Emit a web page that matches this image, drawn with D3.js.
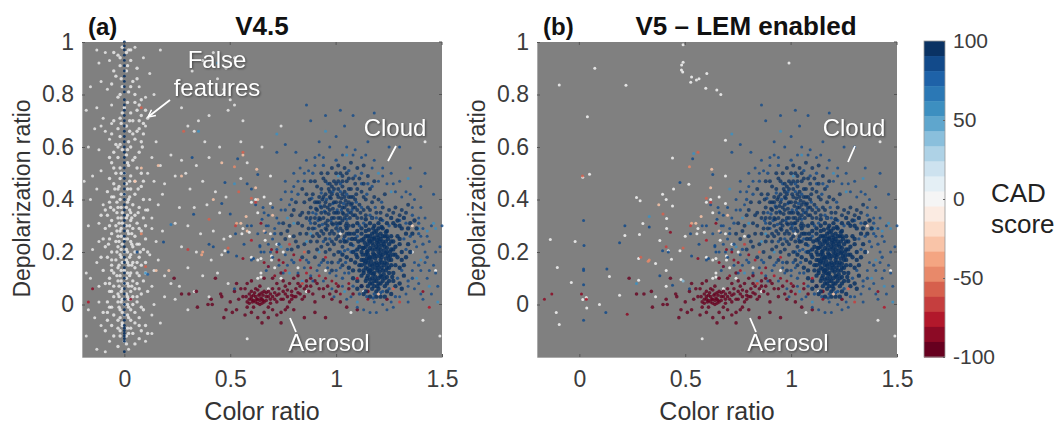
<!DOCTYPE html>
<html>
<head>
<meta charset="utf-8">
<script src="https://cdn.jsdelivr.net/npm/d3@7"></script>
<style>
    html, body { margin: 0; padding: 0; background: #fff; }
    text { font-family: "Liberation Sans", Arial, sans-serif; }
</style>
</head>
<body>
<svg id="chart" width="1057" height="425"></svg>
<script>
// colorbar levels, top (100) to bottom (-100)
const cadColors = ["#0a3263","#124a8a","#1e62a8","#2b78b5","#3d8fc0","#5fa6cd","#8abfdc","#aed2e6","#cde2ef","#e4eff5","#f5f5f5","#fbebe2","#fcdcc9","#f9c4a8","#f4a582","#e8896a","#d6604d","#c53e3e","#b2182b","#8c0a25","#67001f"];
const xTicks = [0, 0.5, 1, 1.5];
const yTicks = [0, 0.2, 0.4, 0.6, 0.8, 1];
const cadTicks = [100, 50, 0, -50, -100];

// points as [color ratio, depol ratio]; the dense cores are estimates
const lowerLobe = [[1.16,.24],[1.18,.25],[1.2,.23],[1.22,.24],[1.14,.22],[1.17,.21],[1.19,.22],[1.21,.21],[1.23,.22],[1.25,.23],[1.13,.25],[1.15,.26],[1.17,.27],[1.19,.28],[1.21,.27],[1.23,.26],[1.12,.2],[1.14,.19],[1.16,.18],[1.18,.19],[1.2,.2],[1.22,.19],[1.24,.2],[1.26,.21],[1.13,.17],[1.15,.16],[1.17,.15],[1.19,.16],[1.21,.17],[1.23,.16],[1.25,.17],[1.14,.14],[1.16,.13],[1.18,.12],[1.2,.14],[1.22,.13],[1.24,.14],[1.26,.15],[1.15,.11],[1.17,.1],[1.19,.09],[1.21,.11],[1.23,.1],[1.25,.12],[1.12,.15],[1.1,.18],[1.11,.22],[1.09,.25],[1.1,.28],[1.12,.29],[1.14,.3],[1.16,.31],[1.18,.3],[1.2,.31],[1.22,.29],[1.24,.28],[1.26,.26],[1.27,.24],[1.28,.22],[1.27,.19],[1.29,.18],[1.28,.15],[1.27,.12],[1.25,.09],[1.23,.07],[1.2,.06],[1.18,.07],[1.16,.08],[1.14,.09],[1.12,.11],[1.11,.13],[1.09,.16],[1.08,.2],[1.07,.23],[1.06,.27],[1.08,.3],[1.15,.205],[1.17,.235],[1.195,.245],[1.215,.225],[1.235,.24],[1.155,.245],[1.175,.195],[1.205,.185],[1.225,.205],[1.185,.175],[1.165,.165],[1.145,.175],[1.205,.155],[1.225,.15],[1.185,.14],[1.165,.12],[1.205,.125],[1.185,.105],[1.225,.115],[1.245,.185],[1.135,.235],[1.125,.215],[1.155,.285],[1.195,.265],[1.215,.295],[1.175,.29],[1.245,.25],[1.135,.155],[1.15,.135],[1.17,.08],[1.2,.08],[1.22,.09],[1.13,.13],[1.19,.05],[1.17,.06],[1.15,.07],[1.24,.05],[1.27,.09],[1.3,.14],[1.31,.2],[1.3,.23],[1.29,.26],[1.31,.29],[1.28,.3],[1.33,.27],[1.34,.23],[1.33,.18],[1.35,.31],[1.37,.32],[1.32,.33],[1.29,.32],[1.26,.33],[1.36,.27],[1.1,.06],[1.13,.04],[1.08,.1],[1.06,.14],[1.05,.18],[1.16,.03],[1.21,.03],[1.26,.04],[1.3,.08],[1.32,.11]];

const lowerLobeFill = [[1.15,.23],[1.175,.225],[1.19,.235],[1.205,.24],[1.225,.23],[1.24,.215],[1.13,.215],[1.145,.2],[1.16,.215],[1.185,.21],[1.2,.215],[1.21,.195],[1.235,.195],[1.255,.2],[1.125,.19],[1.14,.165],[1.155,.175],[1.17,.18],[1.19,.185],[1.215,.18],[1.235,.175],[1.255,.185],[1.16,.15],[1.18,.155],[1.195,.15],[1.215,.16],[1.24,.155],[1.155,.125],[1.17,.135],[1.195,.13],[1.215,.14],[1.235,.13],[1.16,.095],[1.18,.09],[1.2,.1],[1.215,.105],[1.24,.105],[1.145,.1],[1.175,.115],[1.195,.07],[1.21,.08],[1.18,.255],[1.2,.255],[1.22,.26],[1.24,.26],[1.16,.26],[1.14,.26],[1.12,.245],[1.17,.25],[1.21,.25],[1.15,.19],[1.12,.17],[1.1,.21],[1.105,.24],[1.085,.27],[1.12,.27],[1.14,.28],[1.18,.275],[1.2,.29],[1.235,.275],[1.26,.24],[1.27,.21],[1.26,.17],[1.28,.19],[1.25,.14],[1.265,.105],[1.24,.08],[1.13,.12],[1.11,.15],[1.095,.19],[1.075,.25],[1.05,.29],[1.04,.24],[1.03,.19],[1.07,.17],[1.08,.13],[1.1,.09],[1.12,.07],[1.14,.05],[1.19,.03],[1.23,.03],[1.28,.07],[1.31,.17],[1.3,.25],[1.34,.29],[1.3,.3],[1.27,.31],[1.24,.31],[1.21,.325],[1.17,.33],[1.14,.325],[1.1,.31],[1.38,.29],[1.35,.2],[1.32,.15],[1.31,.06]];

const upperLobe = [[.88,.37],[.9,.33],[.91,.39],[.93,.35],[.94,.41],[.95,.31],[.96,.37],[.97,.43],[.98,.33],[.99,.39],[1,.35],[1,.29],[1.01,.41],[1.02,.33],[1.03,.37],[1.04,.43],[1.05,.31],[1.06,.39],[1.07,.35],[1.08,.41],[1.09,.37],[1.1,.33],[.92,.3],[.94,.27],[.96,.32],[.98,.28],[1,.25],[1.02,.29],[1.04,.26],[1.06,.3],[1.08,.34],[1.11,.38],[1.12,.43],[1.13,.36],[1.14,.4],[.89,.42],[.91,.45],[.93,.44],[.95,.47],[.97,.46],[.99,.44],[1.01,.47],[1.03,.45],[1.05,.47],[1.07,.44],[1.09,.46],[1.11,.48],[1.05,.5],[1.03,.49],[1,.5],[.96,.5],[.86,.33],[.85,.39],[.87,.29],[.89,.26],[.91,.24],[.93,.22],[.95,.25],[.97,.21],[.99,.23],[1.01,.2],[1.03,.22],[1.05,.24],[1.07,.27],[.84,.35],[.82,.31],[.83,.27],[.85,.23],[.87,.2],[.9,.18],[.94,.17],[.98,.16],[1.02,.17],[.965,.345],[.985,.365],[1.015,.375],[1.035,.345],[1.055,.36],[.945,.375],[.925,.325],[.975,.405],[1.005,.42],[1.025,.405],[1.045,.395],[1.075,.385],[.955,.285],[.985,.305],[1.015,.31],[1.045,.3],[1.065,.33],[.905,.365],[.935,.4],[.965,.44],[1.095,.42],[1.115,.35],[1.08,.48],[.8,.26],[.78,.3],[.8,.36],[.76,.25],[.82,.22],[.84,.18],[1.12,.33],[1.13,.46],[1.16,.44],[1.18,.41],[1.16,.36],[1.19,.35],[1.22,.37],[1.25,.36],[1.28,.37],[1.31,.36],[1.34,.38],[1.2,.4],[1.23,.42],[1.15,.49],[1.18,.47],[1.1,.52],[1.13,.53],[1.07,.54],[.98,.52],[.93,.5],[.88,.47],[.84,.44]];

const upperLobeFill = [[.95,.35],[.97,.38],[.99,.35],[1.01,.33],[1.03,.32],[1.05,.34],[1.07,.38],[.93,.37],[.91,.36],[.9,.39],[.92,.41],[.95,.42],[.98,.42],[1,.39],[1.02,.39],[1.04,.37],[1.06,.41],[1.03,.42],[1.01,.44],[.99,.47],[.97,.41],[.94,.33],[.96,.3],[.98,.31],[1,.31],[1.02,.31],[1.04,.33],[.92,.33],[.9,.31],[.88,.33],[.87,.35],[.875,.4],[.92,.39],[.95,.39],[.97,.36],[.99,.33],[1.01,.35],[1.03,.35],[1.05,.38],[1.07,.41],[1.09,.4],[1.06,.44],[1.03,.47],[1,.46],[.98,.45],[1.08,.37],[1.1,.36],[1.09,.34],[1.04,.41],[.89,.29],[.91,.27],[.93,.28],[.95,.29],[.97,.27],[.99,.27],[1.01,.26],[1.03,.28],[1.05,.27],[.96,.23],[.98,.24],[1.02,.24],[.92,.26],[.88,.24],[.86,.27],[.84,.3],[.83,.34],[.86,.42],[.9,.47],[.94,.48],[1.02,.5],[1.06,.48],[1.1,.44],[1.13,.41],[1.15,.37],[1.17,.39],[1.14,.34],[1.21,.35],[1.24,.34],[1.27,.35],[1.3,.34],[1.33,.35],[1.01,.53],[1.04,.52],[.81,.39],[.79,.34],[.77,.28],[.75,.31],[.74,.27],[.81,.24],[.79,.21],[.91,.21],[.95,.2],[.99,.19],[1.03,.15],[.98,.13]];

const lobeExtras = [[.905,.345],[.925,.375],[.945,.355],[.955,.4],[.985,.385],[1.005,.36],[1.025,.36],[1.05,.325],[1.035,.385],[.975,.32],[1.005,.3],[.935,.305],[.915,.32],[.89,.35],[.875,.32],[.885,.405],[.93,.425],[.985,.43],[1.02,.43],[1.05,.42],[.96,.46],[1.02,.46],[1.075,.36],[1.095,.39],[1.06,.35],[1.12,.37],[.97,.25],[1.01,.28],[1.035,.25],[1.06,.25],[.94,.24],[.9,.29],[.88,.31],[1.1,.26],[1.08,.225],[1.09,.205],[1.07,.2],[1.055,.21],[1.04,.205],[1.02,.2],[1.01,.16],[1.045,.16],[1.06,.12],[1.03,.1],[1.08,.07],[1.11,.04],[1.145,.03],[1.175,.025],[1.21,.045],[1.25,.06],[1.29,.1],[1.31,.13],[1.33,.21],[1.32,.25],[1.35,.26],[1.37,.24],[1.39,.31],[1.36,.34],[1.33,.31],[1.3,.32],[1.25,.3],[1.22,.32],[1.19,.33],[1.16,.34],[1.13,.31],[1.11,.3],[1.185,.37],[1.215,.39],[1.145,.42],[1.17,.45],[1.12,.46],[1.15,.46],[1.09,.49],[1.06,.51],[1.12,.5],[1,.55],[.94,.53],[.89,.5],[.85,.47],[.82,.42],[.79,.4],[.76,.36],[.73,.31],[.71,.27],[.73,.23],[.77,.21],[.8,.16],[.87,.16],[.92,.15],[.96,.16],[1,.13],[1.18,.04],[1.22,.05],[1.28,.03],[1.34,.09],[1.36,.1],[1.39,.15],[1.41,.23],[1.43,.18],[1.39,.27]];

const cloudHalo = [[.62,.38],[.66,.35],[.68,.3],[.7,.25],[.72,.33],[.74,.4],[.76,.47],[.79,.43],[.8,.5],[.83,.52],[.86,.55],[.9,.53],[.94,.56],[.97,.6],[.92,.62],[1,.64],[1.05,.6],[1.09,.59],[1.14,.57],[1.18,.55],[1.22,.52],[1.26,.5],[1.3,.47],[1.33,.43],[1.37,.4],[1.4,.37],[1.42,.33],[1.45,.3],[1.44,.24],[1.42,.2],[1.4,.26],[1.38,.22],[1.37,.16],[1.4,.13],[1.43,.1],[1.46,.15],[1.48,.07],[1.45,.04],[1.41,.02],[1.37,.06],[1.34,.01],[1.3,.03],[1.27,-.01],[1.22,0],[1.18,.01],[1.13,-.02],[1.07,.03],[1.03,.07],[1,.11],[.97,.12],[.94,.09],[.91,.13],[.88,.11],[.85,.14],[.82,.12],[.79,.17],[.76,.19],[.73,.15],[.7,.18],[.67,.13],[1.04,.12],[1.02,.14],[.96,.14],[1.25,.6],[1.15,.62],[1.04,.68],[1.08,.72],[1.02,.74],[.95,.72],[.86,.76],[.88,.7],[.72,.58],[.76,.61],[.81,.58],[1.18,.73],[1.3,.6],[1.42,.5],[1.46,.42],[1.49,.22],[1.35,.52],[1.4,.45],[1.47,.12],[1.5,.3],[.58,.3],[.64,.22],[.6,.17],[.74,.36],[.71,.29],[.78,.38],[.82,.47],[.87,.51],[.92,.57],[1.12,.56],[1.2,.47],[1.24,.46],[1.28,.43],[1.35,.42],[1.39,.33],[1.41,.29],[1.36,.13],[1.39,.08],[1.34,.07],[1.42,.16],[1.1,-.01],[1.16,-.03],[1.26,.01],[.98,.06],[.93,.16],[.89,.09],[.86,.17],[.77,.15],[.72,.21],[.68,.23],[.66,.2],[.7,.37],[.76,.43],[.8,.45],[.85,.5],[.9,.56],[1.03,.57],[1.08,.57],[1.17,.52],[1.22,.49],[1.27,.46],[1.31,.41],[1.36,.37],[1.43,.26],[1.47,.2],[1.44,.13],[1.4,.04],[1.33,.04],[1.24,-.02],[1.19,-.03],[1.05,.02],[.99,.03],[.75,.12],[.69,.2],[.63,.27]];

const lightBlue = [[.77,.33],[.8,.31],[.74,.22],[.86,.24],[.92,.2],[.78,.12],[.84,.09],[1.04,.05],[1.1,.01],[1.39,.29],[1.43,.28],[1.46,.31],[1.4,.17],[1.44,.07],[1.48,.01],[1.05,.57],[.95,.66],[.72,.65],[1.26,.43],[1.34,.48],[1.2,.5],[.88,.27],[1.38,.1],[1.01,.49],[1.47,.29]];

const aerosolCore = [[.56,.03],[.58,.01],[.59,.04],[.6,.02],[.61,-.01],[.62,.03],[.62,.01],[.63,.02],[.64,.04],[.64,0],[.65,.02],[.66,.05],[.66,.01],[.67,.03],[.68,-.01],[.69,.02],[.6,.05],[.58,-.01],[.62,.06],[.64,.07],[.68,.05],[.7,.03],[.7,.06],[.72,.01],[.73,.04],[.74,.02],[.75,.05],[.76,.07],[.77,.03],[.78,.01],[.79,.05],[.8,.03],[.81,.06],[.82,.08],[.83,.04],[.84,.02],[.85,.06],[.86,.09],[.87,.05],[.88,.07],[.89,.04],[.6,.03],[.61,.015],[.63,.005],[.645,.025],[.655,.035],[.635,.035],[.615,.045],[.67,.015],[.69,.04],[.71,.02],[.73,.06],[.72,.08],[.75,.09],[.78,.08],[.8,.1],[.54,.02],[.52,.05],[.5,.01],[.53,-.02],[.57,-.04],[.6,-.03],[.63,-.05],[.66,-.03],[.7,-.02],[.74,-.03],[.77,-.01],[.8,-.02],[.65,-.07],[.74,-.07],[.9,.01],[.92,.06],[.94,.03],[.96,.07],[.98,.02],[1,.05],[1.02,.01],[1.05,-.01],[1.08,.04],[1.12,.07],[.47,-.05],[.48,-.02],[.46,.03],[.455,.04],[.41,.02],[.415,0],[.395,0],[.345,-.01],[.34,.05],[.305,.04],[.27,.04],[.43,.1],[.235,.1],[.58,.08],[.9,-.03],[.95,-.05],[1.1,-.02],[.85,-.05],[.59,.02],[.61,.035],[.65,.005],[.63,.055],[.67,.045],[.69,.005],[.71,.045],[.75,.02],[.77,.055],[.79,.02],[.81,.03],[.83,.07],[.85,.03],[.76,-.02],[.72,-.04],[.68,-.05],[.55,.06],[.57,.06],[.51,-.03],[.53,.08],[.6,.09],[.66,.1],[.7,.1],[.74,.12],[.82,.11],[.9,.09],[.625,.02],[.64,.015],[.655,.015],[.605,.01],[.59,.005],[.575,.03],[.65,.045],[.68,.03],[.72,.035],[.76,.04],[.79,.035],[.82,.045],[.86,.07],[.88,.1],[.91,.08],[.94,.06],[.97,.04],[1.01,.07],[1.06,.06],[1.15,.05],[1.24,.02]];

const midRed = [[.56,.58,-55],[.52,.525,-50],[.625,.515,-25],[.62,.445,-25],[.6,.405,-60],[.62,.39,-70],[.53,.31,-35],[.55,.31,-25],[.575,.335,-25],[.525,.3,-70],[.6,.245,-80],[.49,.215,-55],[.695,.21,-85],[.56,.175,-85],[.645,.31,-85],[.68,.145,-85],[.72,.2,-90],[.75,.16,-85],[.78,.23,-70],[.83,.17,-80],[.88,.14,-85],[.71,.11,-90],[.76,.13,-75],[.92,.11,-80],[.98,.09,-85],[.66,.28,-30],[.7,.34,-25],[.85,.2,-60],[1.36,.3,-20],[1.2,.04,-30],[1.1,.1,-75],[1.06,.08,-85],[.95,.18,-75],[1.27,.06,-60],[1.41,.05,-85],[1.44,-.01,-80],[.73,.17,-85],[.66,.16,-90],[.8,.19,-90],[.86,.12,-80],[.95,.1,-85],[1,.08,-90],[.84,.08,-70],[1.02,.04,-85],[1.15,.02,-85],[1.3,.01,-70]];

const midWhite = [[.69,.49],[.66,.41],[.62,.4],[.6,.39],[.63,.35],[.56,.29],[.555,.27],[.59,.275],[.5,.26],[.475,.205],[.6,.18],[.63,.17],[.645,.175],[.665,.245],[.69,.27],[.69,.385],[.645,.12],[.63,.1],[.645,.105],[.695,.185],[.695,.17],[.72,.23],[.75,.2],[.78,.26],[.82,.14],[.71,.14],[.74,.1],[.68,.06],[.86,.05],[.95,.13],[1.07,-.03],[1.13,.05],[1.42,.62],[1.02,.27],[1.17,.33],[1.47,.13],[1.36,.2],[1.41,-.06],[1.49,-.12],[.58,-.13]];

const leftBlue = [[.475,.465],[.535,.555],[.63,.495],[.525,.27],[.53,.185],[.565,.23],[.6,.3],[.61,.175],[.52,.06],[.655,.37],[.68,.34],[.67,.3],[.65,.325],[.665,.275],[.64,.225],[.645,.2],[.68,.145]];

// panel (a) only: white false features either side of zero
const falseBand = [[-.01,.98],[.02,.97],[-.03,.95],[.03,.93],[-.02,.91],[.01,.89],[-.04,.87],[.04,.85],[-.01,.83],[.02,.81],[-.03,.79],[.05,.77],[0,.75],[.03,.73],[-.02,.71],[.06,.74],[.08,.72],[.04,.7],[.01,.68],[-.03,.67],[.06,.66],[.09,.65],[-.02,.64],[.02,.62],[.05,.63],[-.04,.61],[.03,.6],[-.01,.59],[-.05,.58],[.07,.58],[.01,.57],[-.03,.56],[.04,.55],[-.06,.54],[.02,.53],[-.02,.52],[.06,.52],[-.04,.5],[0,.5],[.03,.49],[-.07,.48],[-.02,.48],[.05,.47],[-.05,.46],[.01,.46],[.08,.45],[-.03,.44],[.03,.44],[-.08,.43],[0,.42],[.05,.42],[-.05,.41],[-.02,.4],[.02,.4],[.09,.4],[-.07,.39],[.04,.38],[-.03,.37],[.01,.37],[.07,.37],[-.05,.36],[-.01,.35],[.03,.35],[.05,.34],[-.08,.34],[-.03,.33],[.01,.33],[.09,.33],[-.06,.32],[.03,.32],[-.01,.31],[.06,.31],[-.04,.3],[.01,.3],[.04,.29],[-.09,.29],[-.02,.28],[.08,.28],[-.06,.27],[.02,.27],[-.03,.26],[.05,.26],[0,.25],[.1,.25],[-.07,.25],[-.04,.24],[.03,.24],[.07,.23],[-.01,.23],[-.09,.22],[-.03,.22],[.04,.22],[.01,.21],[.09,.21],[-.06,.2],[0,.2],[.05,.2],[-.02,.19],[.03,.19],[-.08,.18],[.07,.18],[-.04,.17],[.01,.17],[-.01,.16],[.04,.16],[-.06,.15],[.08,.15],[.02,.15],[-.03,.14],[.05,.14],[-.1,.13],[0,.13],[.03,.12],[.1,.12],[-.05,.12],[-.02,.11],[.07,.11],[.01,.1],[-.07,.1],[.04,.09],[-.03,.09],[.09,.09],[0,.08],[-.09,.08],[.06,.08],[-.05,.07],[.02,.07],[-.01,.06],[.05,.06],[-.07,.05],[.03,.05],[.11,.05],[-.03,.04],[.01,.04],[.08,.04],[-.05,.03],[.04,.03],[-.01,.02],[.02,.02],[.06,.01],[-.08,.01],[-.03,.01],[0,0],[.04,0],[-.06,-.01],[.02,-.01],[.09,-.02],[-.02,-.02],[.05,-.03],[-.1,-.03],[0,-.04],[-.05,-.04],[.07,-.05],[.02,-.05],[-.03,-.06],[-.08,-.06],[.05,-.07],[-.01,-.07],[.1,-.08],[-.06,-.08],[.03,-.09],[.08,-.1],[-.02,-.1],[-.09,-.1],[.04,-.11],[.11,-.11],[.01,-.12],[-.05,-.12],[.07,-.13],[0,-.14],[.05,-.15],[-.03,-.16]];

const falseBandFill = [[.015,.54],[-.015,.5],[.025,.47],[-.025,.45],[.015,.44],[-.015,.42],[.025,.41],[-.035,.39],[.015,.39],[-.015,.37],[.025,.36],[-.035,.35],[.015,.34],[-.015,.33],[.035,.33],[-.025,.31],[.025,.3],[-.015,.29],[.015,.28],[-.035,.28],[.035,.27],[-.015,.26],[.015,.25],[-.025,.24],[.035,.23],[-.015,.21],[.015,.2],[-.035,.2],[.025,.18],[-.015,.18],[.015,.16],[-.025,.15],[.035,.15],[-.015,.13],[.015,.12],[-.035,.11],[.025,.11],[-.015,.09],[.015,.08],[-.025,.07],[.035,.07],[-.015,.05],[.015,.03],[-.025,.03],[.03,.02],[-.015,.01],[.015,0],[-.025,-.01],[.03,-.02],[-.01,-.03],[.015,-.04],[-.02,-.05],[.03,-.06],[-.01,-.08],[.015,-.09],[-.03,-.09],[.02,-.11],[-.02,-.12],[.01,-.15],[.015,.59],[-.02,.61],[.025,.66],[-.015,.69],[.025,.7],[-.01,.73],[.015,.77],[-.02,.8],[.03,.83],[-.015,.86],[.015,.91],[-.02,.94],[.01,.96],[-.06,.41],[-.065,.37],[.065,.35],[.07,.29],[-.07,.3],[-.075,.23],[.06,.23],[.075,.2],[-.06,.17],[.06,.16],[-.06,.13],[.06,.12],[-.07,.08],[.07,.06],[-.06,.05],[.06,.03],[-.07,-.01],[.08,-.01],[-.08,-.03],[.07,-.08],[-.045,.44],[.065,.44],[-.09,.36],[.1,.3],[.11,.2],[.1,.16],[-.11,.18],[-.1,.25],[.11,.36],[-.11,.34],[.09,.47],[.085,.6],[.07,.7],[.03,.97],[-.05,.96],[.06,.9],[-.05,.89],[.06,.86],[-.06,.84],[.05,.8],[.08,.78],[.07,.76],[.1,.74],[.11,.71],[.09,.69],[.07,.67],[-.05,.7],[-.06,.65],[.04,.65],[.08,.62],[-.03,.6],[-.07,.56],[.05,.56],[-.05,.52],[.08,.5]];

const falseScatter = [[-.13,.97],[-.09,.96],[-.07,.93],[-.12,.92],[.09,.94],[.05,.98],[.12,.88],[.17,.97],[-.11,.85],[-.16,.83],[-.08,.82],[.07,.83],[.1,.79],[.14,.8],[-.06,.76],[-.13,.75],[-.18,.74],[-.1,.71],[-.06,.69],[.12,.72],[.1,.68],[.15,.62],[-.14,.67],[-.11,.68],[-.09,.66],[-.17,.6],[-.12,.59],[-.07,.63],[.13,.56],[.17,.53],[.11,.5],[.14,.47],[.19,.46],[.22,.57],[.27,.55],[-.11,.51],[-.15,.49],[-.19,.47],[-.13,.44],[-.1,.38],[-.16,.4],[.12,.4],[.16,.38],[.13,.33],[.18,.42],[.1,.36],[-.12,.31],[-.17,.3],[.13,.29],[.18,.28],[.15,.24],[-.12,.24],[-.15,.21],[.12,.19],[.16,.17],[-.13,.16],[-.18,.12],[.14,.13],[.19,.11],[.22,.08],[-.12,.07],[-.16,.1],[.13,.07],[.19,.03],[.14,0],[-.12,.01],[-.17,-.02],[-.14,-.05],[.13,-.04],[-.11,-.08],[.17,-.07],[.13,-.11],[-.07,-.14],[.1,-.14],[-.18,-.12],[-.13,-.17],[.02,-.17],[-.09,-.18],[.32,.89],[.37,.93],[.42,.96],[.48,.9],[.52,.94],[.44,.86],[.47,.82],[.5,.78],[.52,.76],[.49,.74],[.35,.7],[.3,.68],[.33,.66],[.4,.72],[.27,.75],[.38,.62],[.45,.6],[.55,.62],[.4,.56],[.34,.53],[.29,.5],[.24,.49],[.31,.44],[.37,.47],[.43,.43],[.48,.41],[.26,.37],[.33,.37],[.39,.38],[.45,.35],[.24,.31],[.3,.3],[.36,.27],[.42,.28],[.47,.25],[.27,.22],[.34,.2],[.41,.17],[.46,.19],[.3,.14],[.37,.11],[.44,.12],[.26,.07],[.33,.05],[.4,.03],[.49,.08],[.3,-.02],[.24,.02],[.55,.48],[.58,.54],[.65,.6],[.74,.68],[.56,.7]];

const columnZero = [1,.985,.97,.95,.93,.91,.89,.87,.85,.83,.81,.78,.76,.74,.72,.7,.68,.66,.64,.62,.6,.58,.56,.54,.52,.5,.48,.46,.44,.42,.4,.38,.36,.34,.32,.3,.28,.26,.24,.22,.2,.18,.16,.14,.12,.1,.08,.06,.04,.02,0,-.02,-.04,-.06,-.08,-.09,-.1,-.11,-.12,-.13,-.14,-.18];

const colorA = [[.185,.238,90],[.327,.344,90],[.22,.305,70],[.4,.325,-60],[.42,.4,-25],[.46,.385,90],[.5,.345,90],[.37,.2,-40],[.365,.19,-40],[.3,.21,-70],[.4,.23,90],[.42,.22,90],[.49,.2,90],[.1,.145,-60],[.15,.13,-25],[.11,.115,80],[.06,.2,85],[.1,.12,60],[.21,.13,-25],[.08,.27,-45],[-.15,.06,-90],[-.17,.01,-80],[.03,.02,-85],[.32,.56,85],[.46,.54,-25],[.56,.57,-30],[.28,.66,-60],[.58,.28,-30],[.35,.66,60],[.08,.75,-60],[.08,.52,-30],[.16,.53,-25],[.27,.49,-25],[.52,.46,60],[.58,.46,85],[.54,.43,-60],[.6,.44,85],[.63,.4,-25],[.05,.47,-25],[.44,.92,60]];

// panel (b) only
const whiteB = [[-.095,.836],[.073,.9],[.22,.835],[.038,.715],[.49,.99],[.483,.912],[.49,.923],[.482,.893],[.488,.886],[.53,.867],[.526,.847],[.553,.855],[.565,.86],[.602,.88],[.597,.824],[.649,.817],[.668,.8],[.69,.626],[.44,.558],[.016,.485],[.048,.496],[-.137,.248],[-.02,.24],[-.104,.141],[-.038,.084],[-.109,-.03],[-.095,-.076],[.016,.019],[.033,.027],[.035,-.013],[.095,0],[.19,.035],[.142,.107],[.28,.092],[.215,.263],[.284,.267],[.3,.309],[.27,.408],[.287,.395],[.28,.175],[.36,.156],[.38,.244],[.41,.13],[.435,.172],[.42,.205],[.412,.328],[.412,.29],[.393,.42],[.41,.4],[.44,.375],[.445,.44],[.517,.458],[.48,.095],[.41,.07],[.36,.03],[.99,.92]];
const colorB = [[.02,.32,90],[.022,.225,90],[.02,.135,90],[.02,.13,85],[.02,.075,85],[.02,-.06,85],[.13,.135,85],[.125,-.03,85],[.19,.235,90],[.215,.3,90],[.33,.295,90],[.393,.205,85],[.42,.2,85],[.38,.11,85],[.44,.073,85],[.33,.335,60],[.27,.08,60],[.49,.09,40],[.54,.575,55],[.71,.44,60],[.015,.49,-60],[.375,.38,-25],[.395,.345,-60],[.43,.275,-85],[.41,.22,-70],[.29,.18,-60],[.33,.17,-45],[.325,.165,-45],[-.165,.02,-85],[-.13,.04,-85],[.01,.04,-85],[.033,.02,-80],[.226,-.037,-90]];

// quantize needs an ascending domain, so the bar's levels go in reversed
const color = d3.scaleQuantize().domain([-100, 100]).range(cadColors.slice().reverse());
const svg = d3.select("#chart");

const panelWidth = 360, panelHeight = 315, panelTop = 42;

function tag(points, score) {
    return points.map(p => ({ x: p[0], y: p[1], score: p.length > 2 ? p[2] : score }));
}

function drawPanel(left, label, title, titleX, layers) {
    const x = d3.scaleLinear().domain([-0.2, 1.5]).range([left, left + panelWidth]);
    const y = d3.scaleLinear().domain([-0.2, 1]).range([panelTop + panelHeight, panelTop]);

    svg.append("rect")
        .attr("x", left).attr("y", panelTop)
        .attr("width", panelWidth).attr("height", panelHeight)
        .attr("fill", "#808080");

    const dots = svg.append("g").style("filter", "blur(0.35px)");
    layers.forEach(layer => {
        dots.append("g").selectAll("circle")
            .data(layer.points)
            .enter().append("circle")
            .attr("cx", d => x(d.x))
            .attr("cy", d => y(d.y))
            .attr("r", layer.r)
            .attr("fill", d => color(d.score))
            .attr("fill-opacity", layer.opacity);
    });

    const xAxis = svg.append("g")
        .attr("transform", `translate(0,${panelTop + panelHeight})`)
        .call(d3.axisBottom(x).tickValues(xTicks).tickFormat(d3.format("~g")).tickSizeInner(-3).tickSizeOuter(0).tickPadding(14));
    const yAxis = svg.append("g")
        .attr("transform", `translate(${left},0)`)
        .call(d3.axisLeft(y).tickValues(yTicks).tickFormat(d3.format("~g")).tickSizeInner(-3).tickSizeOuter(0).tickPadding(8));
    [xAxis, yAxis].forEach(a => {
        a.select(".domain").attr("stroke", "#aaa");
        a.selectAll(".tick line").attr("stroke", "#555");
        a.selectAll("text").style("font-size", "23px").attr("fill", "#3c3c3c");
    });

    // ticks also on the right edge
    svg.append("g").selectAll("line").data(yTicks).enter().append("line")
        .attr("x1", left + panelWidth - 3).attr("x2", left + panelWidth)
        .attr("y1", d => y(d)).attr("y2", d => y(d))
        .attr("stroke", "#555");
    svg.append("g").selectAll("line").data(xTicks).enter().append("line")
        .attr("x1", d => x(d)).attr("x2", d => x(d))
        .attr("y1", panelTop).attr("y2", panelTop + 3)
        .attr("stroke", "#555");

    svg.append("text").attr("x", left + panelWidth / 2).attr("y", 420)
        .attr("text-anchor", "middle").style("font-size", "25px").attr("fill", "#333")
        .text("Color ratio");
    svg.append("text")
        .attr("transform", `translate(${left - 52},${panelTop + panelHeight / 2 - 1}) rotate(-90)`)
        .attr("text-anchor", "middle").style("font-size", "23px").attr("fill", "#333")
        .text("Depolarization ratio");
    svg.append("text").attr("x", left + 6).attr("y", 35)
        .style("font-size", "24px").style("font-weight", "bold").attr("fill", "#111")
        .text(label);
    svg.append("text").attr("x", titleX).attr("y", 35)
        .attr("text-anchor", "middle").style("font-size", "26px").style("font-weight", "bold").attr("fill", "#111")
        .text(title);
}

const shared = [
    { points: tag(midWhite, 2), r: 1.5, opacity: 0.85 },
    { points: tag(aerosolCore, -92), r: 1.8, opacity: 0.8 },
    { points: tag(cloudHalo, 85), r: 1.5, opacity: 0.8 },
    { points: tag(lightBlue, 55), r: 1.5, opacity: 0.85 },
    { points: tag(lobeExtras, 88), r: 1.7, opacity: 0.8 },
    { points: tag(upperLobe, 95), r: 2, opacity: 0.75 },
    { points: tag(upperLobeFill, 95), r: 2, opacity: 0.75 },
    { points: tag(lowerLobe, 98), r: 2.2, opacity: 0.85 },
    { points: tag(lowerLobeFill, 98), r: 2.2, opacity: 0.85 },
    { points: tag(leftBlue, 85), r: 1.5, opacity: 0.85 },
    { points: tag(midRed), r: 1.5, opacity: 0.85 }
];

drawPanel(82, "(a)", "V4.5", 262, [
    { points: tag(falseBand, 2), r: 1.7, opacity: 0.75 },
    { points: tag(falseBandFill, 2), r: 1.7, opacity: 0.75 },
    { points: tag(falseScatter, 2), r: 1.5, opacity: 0.75 },
    { points: tag(columnZero.map(v => [0, v]), 92), r: 1.4, opacity: 0.9 },
    { points: tag(colorA), r: 1.5, opacity: 0.85 }
].concat(shared));

drawPanel(537, "(b)", "V5 \u2013 LEM enabled", 746, [
    { points: tag(whiteB, 2), r: 1.5, opacity: 0.85 },
    { points: tag(colorB), r: 1.5, opacity: 0.85 }
].concat(shared));

// annotations: white text with a soft shadow
const defs = svg.append("defs");
const arrowHead = defs.append("marker").attr("id", "arrow")
    .attr("viewBox", "0 0 10 10").attr("refX", 9).attr("refY", 5)
    .attr("markerWidth", 9).attr("markerHeight", 9).attr("markerUnits", "userSpaceOnUse").attr("orient", "auto");
arrowHead.append("path").attr("d", "M1 1 L9 5 L1 9").attr("fill", "none").attr("stroke", "#fff").attr("stroke-width", 1.6);

function note(txt, cx, base) {
    svg.append("text").attr("x", cx).attr("y", base)
        .attr("text-anchor", "middle").attr("fill", "#fff")
        .style("font-size", "24px")
        .style("filter", "drop-shadow(1px 1px 1px rgba(0,0,0,.45))")
        .text(txt);
}
function pointer(x1, y1, x2, y2, withArrow) {
    const l = svg.append("line").attr("x1", x1).attr("y1", y1).attr("x2", x2).attr("y2", y2)
        .attr("stroke", "#fff").attr("stroke-width", 1.8);
    if (withArrow) l.attr("marker-end", "url(#arrow)");
}
note("False", 217, 68);
note("features", 217, 96);
pointer(170, 100, 148, 117, true);
note("Cloud", 395, 136);
pointer(396, 146, 388, 161);
note("Aerosol", 329, 351);
pointer(290, 318, 296, 332);
note("Cloud", 854, 136);
pointer(855, 146, 848, 162);
note("Aerosol", 788, 351);
pointer(750, 318, 756, 332);

// colorbar
const barTop = 41, barHeight = 316;
const cadScale = d3.scaleLinear().domain([100, -100]).range([barTop, barTop + barHeight]);
svg.append("g").selectAll("rect").data(cadColors).enter().append("rect")
    .attr("x", 924).attr("width", 21)
    .attr("y", (d, i) => cadScale(100 - i * 200 / cadColors.length))
    .attr("height", barHeight / cadColors.length + 0.5)
    .attr("fill", d => d);
svg.append("rect").attr("x", 924).attr("y", barTop).attr("width", 21).attr("height", barHeight)
    .attr("fill", "none").attr("stroke", "#999").attr("stroke-width", 0.8);
const cadAxis = svg.append("g").attr("transform", "translate(945,0)")
    .call(d3.axisRight(cadScale).tickValues(cadTicks).tickFormat(d => String(d)).tickSizeInner(-2).tickSizeOuter(0).tickPadding(8));
cadAxis.select(".domain").remove();
cadAxis.selectAll(".tick line").attr("stroke", "#666");
cadAxis.selectAll("text").style("font-size", "21px").attr("fill", "#3c3c3c");

svg.append("text").attr("x", 991).attr("y", 202).style("font-size", "26px").attr("fill", "#222").text("CAD");
svg.append("text").attr("x", 991).attr("y", 233).style("font-size", "26px").attr("fill", "#222").text("score");
</script>
</body>
</html>
